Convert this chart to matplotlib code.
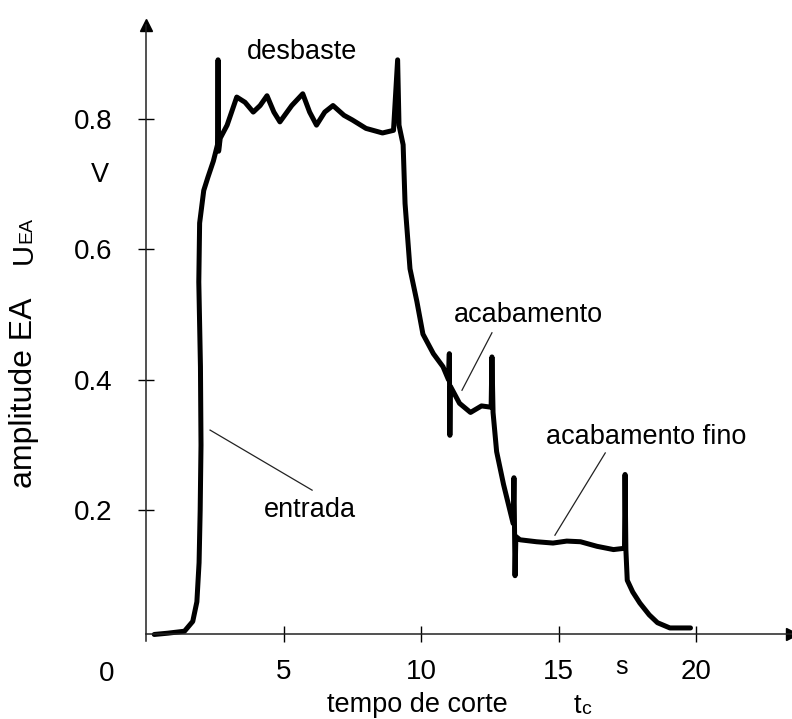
import matplotlib
matplotlib.use("Agg")
import matplotlib.pyplot as plt

plt.rcParams["font.family"] = ["Liberation Sans", "DejaVu Sans"]

# AE amplitude trace (time in s, amplitude in V)
tempo = [0.3, 0.8, 1.4, 1.7, 1.85, 1.93, 1.97, 2.0, 1.98, 1.92, 1.95, 2.1, 2.25,
         2.45, 2.6, 2.62, 2.64, 2.7, 2.95, 3.3, 3.6, 3.9, 4.15, 4.4, 4.65, 4.87,
         5.3, 5.7, 5.95, 6.2, 6.5, 6.8, 7.2, 7.5, 8.0, 8.6, 9.0, 9.15, 9.2, 9.35,
         9.42, 9.6, 9.85, 10.07, 10.45, 10.8, 11.0, 11.03, 11.05, 11.07, 11.4,
         11.8, 12.2, 12.55, 12.58, 12.62, 12.75, 13.0, 13.35, 13.38, 13.42, 13.45,
         13.6, 14.2, 14.8, 15.3, 15.8, 16.4, 17.0, 17.4, 17.42, 17.45, 17.5, 17.7,
         17.96, 18.3, 18.6, 19.05, 19.8]
amplitude = [0.01, 0.012, 0.015, 0.03, 0.06, 0.12, 0.2, 0.3, 0.42, 0.55, 0.64,
             0.69, 0.71, 0.735, 0.76, 0.89, 0.75, 0.77, 0.79, 0.833, 0.825, 0.81,
             0.82, 0.835, 0.81, 0.795, 0.82, 0.838, 0.81, 0.79, 0.81, 0.82, 0.805,
             0.798, 0.785, 0.778, 0.782, 0.89, 0.79, 0.76, 0.67, 0.57, 0.52, 0.47,
             0.44, 0.42, 0.40, 0.44, 0.315, 0.39, 0.364, 0.35, 0.36, 0.358, 0.435,
             0.35, 0.29, 0.24, 0.18, 0.25, 0.10, 0.16, 0.155, 0.152, 0.15, 0.153,
             0.152, 0.145, 0.14, 0.142, 0.255, 0.14, 0.093, 0.075, 0.058, 0.04,
             0.028, 0.02, 0.02]

x_ticks = [5, 10, 15, 20]
y_ticks = [0.2, 0.4, 0.6, 0.8]
y_tick_labels = ["0.2", "0.4", "0.6", "0.8"]

# annotations: (text, text position, leader start, leader end)
annotations = [
    ("desbaste", (5.67, 0.902), None, None),
    ("acabamento", (13.9, 0.499), (12.58, 0.472), (11.49, 0.384)),
    ("acabamento fino", (18.2, 0.312), (16.7, 0.288), (14.87, 0.162)),
    ("entrada", (5.96, 0.200), (6.04, 0.231), (2.33, 0.323)),
]

W, H = 792, 719
FS = 19.5
fig = plt.figure(figsize=(W / 100, H / 100), dpi=100)
# axes box in pixels: x=0 at px 146, 27.5 px per s; y=0 at py 641, 653 px per V
ax = fig.add_axes([146 / W, (H - 641) / H, (W - 146) / W, (641 - 25) / H])
ax.set_xlim(0, (W - 146) / 27.5)
ax.set_ylim(0, (641 - 25) / 653)

ax.plot(tempo, amplitude, color="black", lw=3.6, solid_joinstyle="round",
        solid_capstyle="round")

for side in ["top", "right"]:
    ax.spines[side].set_visible(False)
ax.spines["bottom"].set_position(("data", 0.01))
for side in ["left", "bottom"]:
    ax.spines[side].set_linewidth(1.1)
    ax.spines[side].set_color("#222222")

# arrow heads on both axes
ax.plot(1, 0.01, ">", color="black", ms=9, transform=ax.get_yaxis_transform(),
        clip_on=False)
ax.plot(0, 1, "^", color="black", ms=9, transform=ax.get_xaxis_transform(),
        clip_on=False)

ax.set_xticks(x_ticks)
ax.set_xticklabels([str(v) for v in x_ticks])
ax.set_yticks(y_ticks)
ax.set_yticklabels(y_tick_labels)
ax.tick_params(axis="y", direction="inout", length=12, width=1, pad=18,
               labelsize=20)
ax.tick_params(axis="x", direction="inout", length=11, width=1, pad=12,
               labelsize=20)

ax.text(-1.45, -0.05, "0", fontsize=20, ha="center", va="center")
ax.text(17.3, -0.04, "s", fontsize=18, ha="center", va="center")

for label, pos, p0, p1 in annotations:
    ax.text(pos[0], pos[1], label, fontsize=FS, ha="center", va="center")
    if p0 is not None:
        ax.plot([p0[0], p1[0]], [p0[1], p1[1]], color="#222222", lw=0.9)

# axis titles placed in figure pixels
fig.text(100 / W, 1 - 175 / H, "V", fontsize=FS, ha="center", va="center")
fig.text(417 / W, 1 - 705 / H, "tempo de corte", fontsize=FS, ha="center",
         va="center")
fig.text(577 / W, 1 - 706 / H, "t", fontsize=FS, ha="center", va="center")
fig.text(586 / W, 1 - 709 / H, "c", fontsize=14, ha="center", va="center")
fig.text(24 / W, 1 - 393 / H, "amplitude EA", fontsize=23, rotation=90,
         ha="center", va="center")
fig.text(24 / W, 1 - 254 / H, "U", fontsize=21, rotation=90, ha="center",
         va="center")
fig.text(27 / W, 1 - 230 / H, "EA", fontsize=14, rotation=90, ha="center",
         va="center")

fig.savefig("out.png", dpi=100, facecolor="white")
